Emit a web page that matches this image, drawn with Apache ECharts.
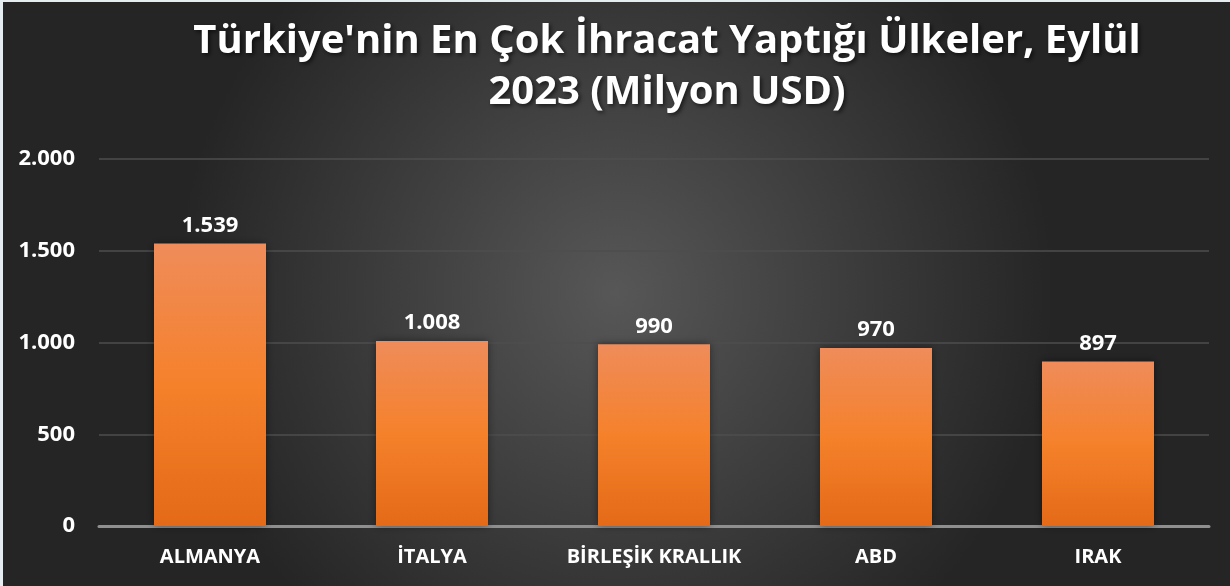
<!DOCTYPE html>
<html>
<head>
<meta charset="utf-8">
<script src="https://cdn.jsdelivr.net/npm/echarts@6/dist/echarts.min.js"></script>
<style>
  html, body { margin: 0; padding: 0; background: #2b2b2b; }
  #chart { width: 1230px; height: 586px; }
</style>
</head>
<body>
<div id="chart"></div>
<script>
const categories = ['ALMANYA', 'İTALYA', 'BİRLEŞİK KRALLIK', 'ABD', 'IRAK'];
const exportValues = [1539, 1008, 990, 970, 897];
const titleText = "Türkiye'nin En Çok İhracat Yaptığı Ülkeler, Eylül\n2023 (Milyon USD)";

// 1539 -> 1.539
function trNumber(v) {
  return String(v).replace(/\B(?=(\d{3})+(?!\d))/g, '.');
}

const chart = echarts.init(document.getElementById('chart'));

const option = {
  backgroundColor: {
    type: 'radial',
    x: 0.5, y: 0.5, r: 0.75,
    colorStops: [
      { offset: 0, color: '#575757' },
      { offset: 1, color: '#252525' }
    ]
  },
  textStyle: { fontFamily: '"Open Sans", sans-serif' },
  graphic: [
    { type: 'rect', left: 0, top: 0, shape: { width: 3, height: 586 }, style: { fill: '#e6edf1' } },
    { type: 'rect', left: 0, top: 0, shape: { width: 1230, height: 2 }, style: { fill: '#e6edf1' } }
  ],
  title: {
    text: titleText,
    left: 662,
    top: 11,
    textAlign: 'center',
    textStyle: {
      color: '#ffffff',
      fontSize: 40,
      fontWeight: 'bold',
      lineHeight: 51,
      fontFamily: '"Open Sans", sans-serif',
      textShadowColor: 'rgba(0,0,0,0.6)',
      textShadowBlur: 4,
      textShadowOffsetX: 2,
      textShadowOffsetY: 2
    }
  },
  grid: {
    left: 99,
    right: 21,
    top: 159,
    bottom: 60
  },
  xAxis: {
    type: 'category',
    data: categories,
    axisTick: { show: false },
    axisLine: { lineStyle: { color: '#8f8f8f', width: 3 } },
    axisLabel: {
      interval: 0,
      color: '#ffffff',
      fontSize: 20,
      fontWeight: 'bold',
      margin: 21
    }
  },
  yAxis: {
    type: 'value',
    min: 0,
    max: 2000,
    interval: 500,
    axisLine: { show: false },
    axisTick: { show: false },
    axisLabel: {
      color: '#ffffff',
      fontSize: 22,
      fontWeight: 'bold',
      margin: 24,
      formatter: trNumber
    },
    splitLine: { lineStyle: { color: '#4e4e4e', width: 1.5 } }
  },
  series: [
    {
      type: 'bar',
      data: exportValues,
      barWidth: 112,
      itemStyle: {
        color: {
          type: 'linear', x: 0, y: 0, x2: 0, y2: 1,
          colorStops: [
            { offset: 0, color: '#ef8c5a' },
            { offset: 0.5, color: '#f5812b' },
            { offset: 1, color: '#e46a17' }
          ]
        },
        shadowColor: 'rgba(0,0,0,0.45)',
        shadowBlur: 8
      },
      label: {
        show: true,
        position: 'top',
        distance: 7,
        color: '#ffffff',
        fontSize: 22,
        fontWeight: 'bold',
        formatter: function (p) { return trNumber(p.value); }
      }
    }
  ]
};

chart.setOption(option);
</script>
</body>
</html>
